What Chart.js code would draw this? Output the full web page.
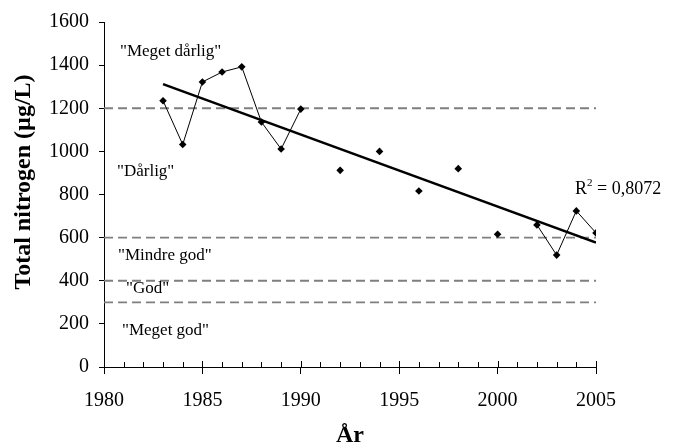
<!DOCTYPE html>
<html>
<head>
<meta charset="utf-8">
<script src="https://cdn.jsdelivr.net/npm/chart.js@4/dist/chart.umd.min.js"></script>
<style>
  html, body { margin: 0; padding: 0; background: #fff; }
  #wrap { width: 674px; height: 448px; }
</style>
</head>
<body>
<div id="wrap"><canvas id="chart"></canvas></div>
<script>
// data
const years = [1983, 1984, 1985, 1986, 1987, 1988, 1989, 1990, 1992, 1994, 1996, 1998, 2000, 2002, 2003, 2004, 2005];
const nitrogen = [1235, 1032, 1322, 1368, 1392, 1136, 1011, 1196, 912, 1000, 816, 920, 616, 659, 519, 724, 622];
const trendYears = [1983, 2005];
const trendValues = [1312, 577];
const classLimits = [1200, 600, 400, 300];
const classNames = ['"Meget dårlig"', '"Dårlig"', '"Mindre god"', '"God"', '"Meget god"'];
const r2Text = '0,8072';
const xTicks = [1980, 1985, 1990, 1995, 2000, 2005];
const yTicks = [0, 200, 400, 600, 800, 1000, 1200, 1400, 1600];

const serif = "'Liberation Serif', 'Times New Roman', serif";

const points = years.map((y, i) => ({ x: y, y: nitrogen[i] }));
const trend = trendYears.map((y, i) => ({ x: y, y: trendValues[i] }));

const limitSets = classLimits.map(v => ({
    data: [{ x: xTicks[0], y: v }, { x: xTicks[xTicks.length - 1], y: v }],
    borderColor: '#7f7f7f',
    borderWidth: 1.8,
    borderDash: [9, 5],
    pointRadius: 0,
    order: 3
}));

// text in the bands + R2 + y title + the small inside ticks on the x axis
const extras = {
    id: 'extras',
    afterDraw(chart) {
        const { ctx, scales: { x, y } } = chart;
        ctx.save();
        ctx.fillStyle = '#000';
        ctx.strokeStyle = '#000';
        ctx.lineWidth = 1;

        // inside ticks
        const base = y.getPixelForValue(0);
        for (let yr = xTicks[0]; yr <= xTicks[xTicks.length - 1]; yr++) {
            const px = Math.round(x.getPixelForValue(yr)) + 0.5;
            const len = (yr % 5 === 0) ? 6 : 5;
            ctx.beginPath();
            ctx.moveTo(px, base);
            ctx.lineTo(px, base - len);
            ctx.stroke();
        }

        // band labels
        ctx.font = '17px ' + serif;
        ctx.textBaseline = 'middle';
        ctx.textAlign = 'left';
        const left = chart.chartArea.left;
        const spots = [[16, 52], [13, 172], [14, 256], [22, 289], [18, 331]];
        classNames.forEach((t, i) => {
            ctx.fillText(t, left + spots[i][0], spots[i][1]);
        });

        // R2 label
        ctx.font = '18px ' + serif;
        ctx.textBaseline = 'alphabetic';
        let tx = 575, ty = 194;
        ctx.fillText('R', tx, ty);
        tx += ctx.measureText('R').width;
        ctx.font = '11px ' + serif;
        ctx.fillText('2', tx, ty - 8);
        tx += ctx.measureText('2').width;
        ctx.font = '18px ' + serif;
        ctx.fillText(' = ' + r2Text, tx, ty);

        // y title
        ctx.translate(24, 182);
        ctx.rotate(-Math.PI / 2);
        ctx.font = 'bold 24px ' + serif;
        ctx.textAlign = 'center';
        ctx.textBaseline = 'middle';
        ctx.fillText('Total nitrogen (µg/L)', 0, 0);
        ctx.restore();
    }
};

new Chart(document.getElementById('chart'), {
    type: 'line',
    data: {
        datasets: [
            {
                data: points,
                borderColor: '#000',
                borderWidth: 1,
                backgroundColor: '#000',
                pointStyle: 'rectRot',
                pointRadius: 3.8,
                pointBorderWidth: 0,
                // only neighbouring years are joined
                segment: {
                    borderColor: c => (c.p1.parsed.x - c.p0.parsed.x > 1) ? 'rgba(0,0,0,0)' : '#000'
                },
                order: 1
            },
            {
                data: trend,
                borderColor: '#000',
                borderWidth: 2.5,
                pointRadius: 0,
                order: 2
            },
            ...limitSets
        ]
    },
    options: {
        responsive: true,
        maintainAspectRatio: false,
        animation: false,
        layout: {
            padding: { top: 21, right: 78, left: 0, bottom: 0 }
        },
        scales: {
            x: {
                type: 'linear',
                min: 1980,
                max: 2005,
                afterFit: s => { s.height = 81; },
                afterBuildTicks: s => { s.ticks = xTicks.map(v => ({ value: v })); },
                ticks: {
                    autoSkip: false,
                    maxRotation: 0,
                    color: '#000',
                    padding: 15,
                    font: { family: serif, size: 20 },
                    callback: v => String(v)
                },
                grid: {
                    display: true,
                    drawOnChartArea: false,
                    drawTicks: true,
                    tickLength: 7,
                    color: '#000'
                },
                border: { display: true, color: '#000', width: 1 },
                title: {
                    display: true,
                    text: 'År',
                    color: '#000',
                    font: { family: serif, size: 24, weight: 'bold', lineHeight: 1 },
                    padding: 0
                }
            },
            y: {
                min: 0,
                max: 1600,
                afterFit: s => { s.width = 104; },
                afterBuildTicks: s => { s.ticks = yTicks.map(v => ({ value: v })); },
                ticks: {
                    color: '#000',
                    padding: 10,
                    font: { family: serif, size: 20 },
                    callback: v => String(v)
                },
                grid: {
                    display: true,
                    drawOnChartArea: false,
                    drawTicks: true,
                    tickLength: 5,
                    color: '#000'
                },
                border: { display: true, color: '#000', width: 1 }
            }
        },
        plugins: {
            legend: { display: false },
            tooltip: { enabled: false }
        }
    },
    plugins: [extras]
});
</script>
</body>
</html>
